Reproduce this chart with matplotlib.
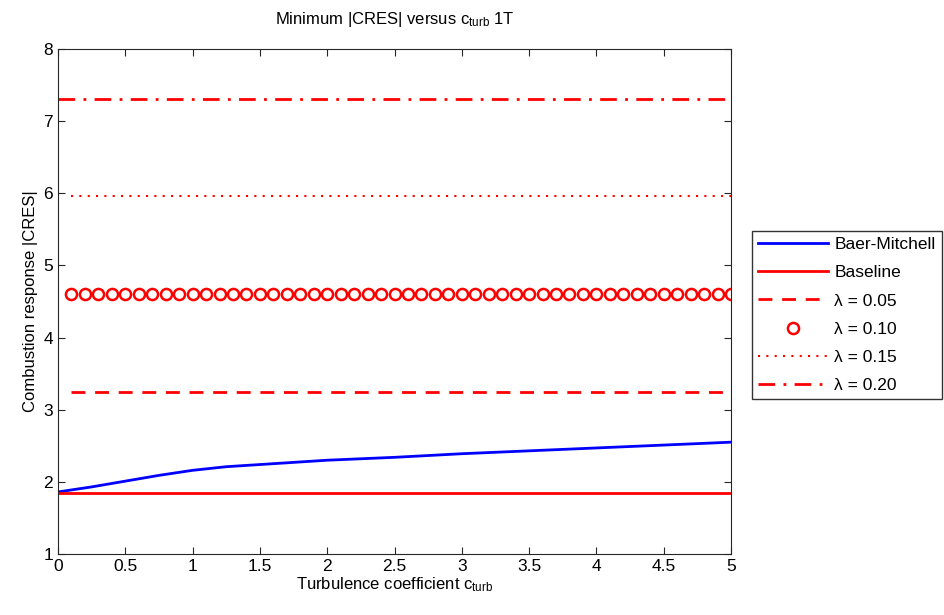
import numpy as np
import matplotlib.pyplot as plt

plt.rcParams['font.family'] = ['Liberation Sans', 'DejaVu Sans']
plt.rcParams['mathtext.fontset'] = 'custom'
plt.rcParams['mathtext.rm'] = 'Liberation Sans'
plt.rcParams['mathtext.it'] = 'Liberation Sans'

# data
c_turb = np.round(np.arange(0.1, 5.001, 0.1), 2)
bm_x = [0.0, 0.25, 0.5, 0.75, 1.0, 1.25, 1.5, 2.0, 2.5, 3.0, 3.5, 4.0, 4.5, 5.0]
bm_y = [1.86, 1.93, 2.01, 2.09, 2.16, 2.21, 2.24, 2.30, 2.34, 2.39, 2.43, 2.47, 2.51, 2.55]
baseline = 1.85
lam_labels = ["λ = 0.05", "λ = 0.10", "λ = 0.15", "λ = 0.20"]
lam_values = [3.24, 4.60, 5.96, 7.31]

fig = plt.figure(figsize=(9.45, 6.15), dpi=100)
ax = fig.add_axes([58 / 945, 1 - 554 / 615, (731 - 58) / 945, (554 - 49) / 615])

ax.plot(bm_x, bm_y, color="blue", lw=2.0, label="Baer-Mitchell")
ax.plot([0, 5], [baseline, baseline], color="red", lw=2.0, label="Baseline")
ax.plot([0.1, 5], [lam_values[0]] * 2, color="red", lw=2.0, ls=(0, (5, 3.5)), label=lam_labels[0])
ax.plot(c_turb, [lam_values[1]] * len(c_turb), color="red", ls="none", marker="o",
        ms=8, mfc="none", mew=1.8, label=lam_labels[1])
ax.plot([0.1, 5], [lam_values[2]] * 2, color="red", lw=1.5, ls=(0, (1, 3)), label=lam_labels[2])
ax.plot([0, 5], [lam_values[3]] * 2, color="red", lw=2.0, ls=(0, (6, 3, 1, 3)), label=lam_labels[3])

ax.set_xlim(0, 5)
ax.set_ylim(1, 8)
ax.set_xticks(np.arange(0, 5.01, 0.5))
ax.set_xticklabels(["0", "0.5", "1", "1.5", "2", "2.5", "3", "3.5", "4", "4.5", "5"])
ax.set_yticks(range(1, 9))
ax.tick_params(direction="in", top=True, right=True, labelsize=12.5, length=5, color="#262626")
for s in ax.spines.values():
    s.set_color("#262626")

ax.set_title(r"Minimum |CRES| versus c$_{\mathrm{turb}}$ 1T", fontsize=12, pad=18)
ax.set_xlabel(r"Turbulence coefficient c$_{\mathrm{turb}}$", fontsize=12, labelpad=1)
ax.set_ylabel("Combustion response |CRES|", fontsize=12, labelpad=4)

leg = ax.legend(loc="upper left", bbox_to_anchor=(752 / 945, 1 - 231 / 615),
                bbox_transform=fig.transFigure, fontsize=12.5, frameon=True, fancybox=False,
                edgecolor="black", borderpad=0.35, labelspacing=0.75, handlelength=4.0,
                handletextpad=0.4, borderaxespad=0)
leg.get_frame().set_linewidth(1.0)

fig.savefig("out.png", dpi=100)
